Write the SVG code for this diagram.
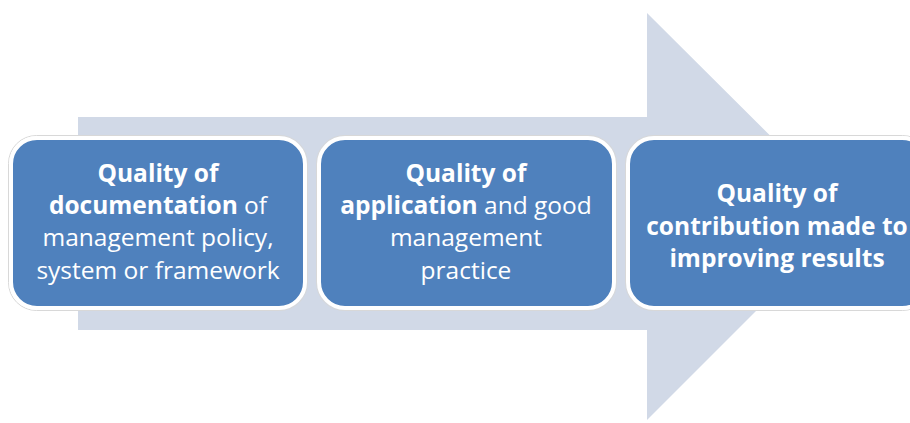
<svg xmlns="http://www.w3.org/2000/svg" width="910" height="423" viewBox="0 0 910 423">
<style>
.box{fill:#4F81BD;stroke:#FFFFFF;stroke-width:4}
.edge{fill:none;stroke:#D8D8D8;stroke-width:1}
.t{font-family:"Open Sans","Liberation Sans",sans-serif;font-size:24.5px;fill:#FFFFFF;text-anchor:middle}
.b{font-weight:bold}
</style>
<rect width="910" height="423" fill="#FFFFFF"/>
<g id="arrow">
<path d="M78,117 H647 V13 L851,216 L647,420 V330 H78 Z" fill="#D1D9E7"/>
</g>
<g id="box1">
<rect class="edge" x="8.5" y="135.5" width="299" height="175" rx="28"/>
<rect class="box" x="11" y="138" width="294" height="170" rx="26"/>
<text class="t" x="158" y="182"><tspan class="b">Quality of</tspan></text>
<text class="t" x="158" y="214"><tspan class="b">documentation</tspan> of</text>
<text class="t" x="158" y="246">management policy,</text>
<text class="t" x="158" y="279">system or framework</text>
</g>
<g id="box2">
<rect class="edge" x="316.5" y="135.5" width="300" height="175" rx="28"/>
<rect class="box" x="319" y="138" width="295" height="170" rx="26"/>
<text class="t" x="466" y="182"><tspan class="b">Quality of</tspan></text>
<text class="t" x="466" y="214"><tspan class="b">application</tspan> and good</text>
<text class="t" x="466" y="246">management</text>
<text class="t" x="466" y="279">practice</text>
</g>
<g id="box3">
<rect class="edge" x="625.5" y="135.5" width="305" height="175" rx="28"/>
<rect class="box" x="628" y="138" width="300" height="170" rx="26"/>
<text class="t b" x="777" y="202">Quality of</text>
<text class="t b" x="777" y="235">contribution made to</text>
<text class="t b" x="777" y="267">improving results</text>
</g>
<g id="connectors"></g>
</svg>
